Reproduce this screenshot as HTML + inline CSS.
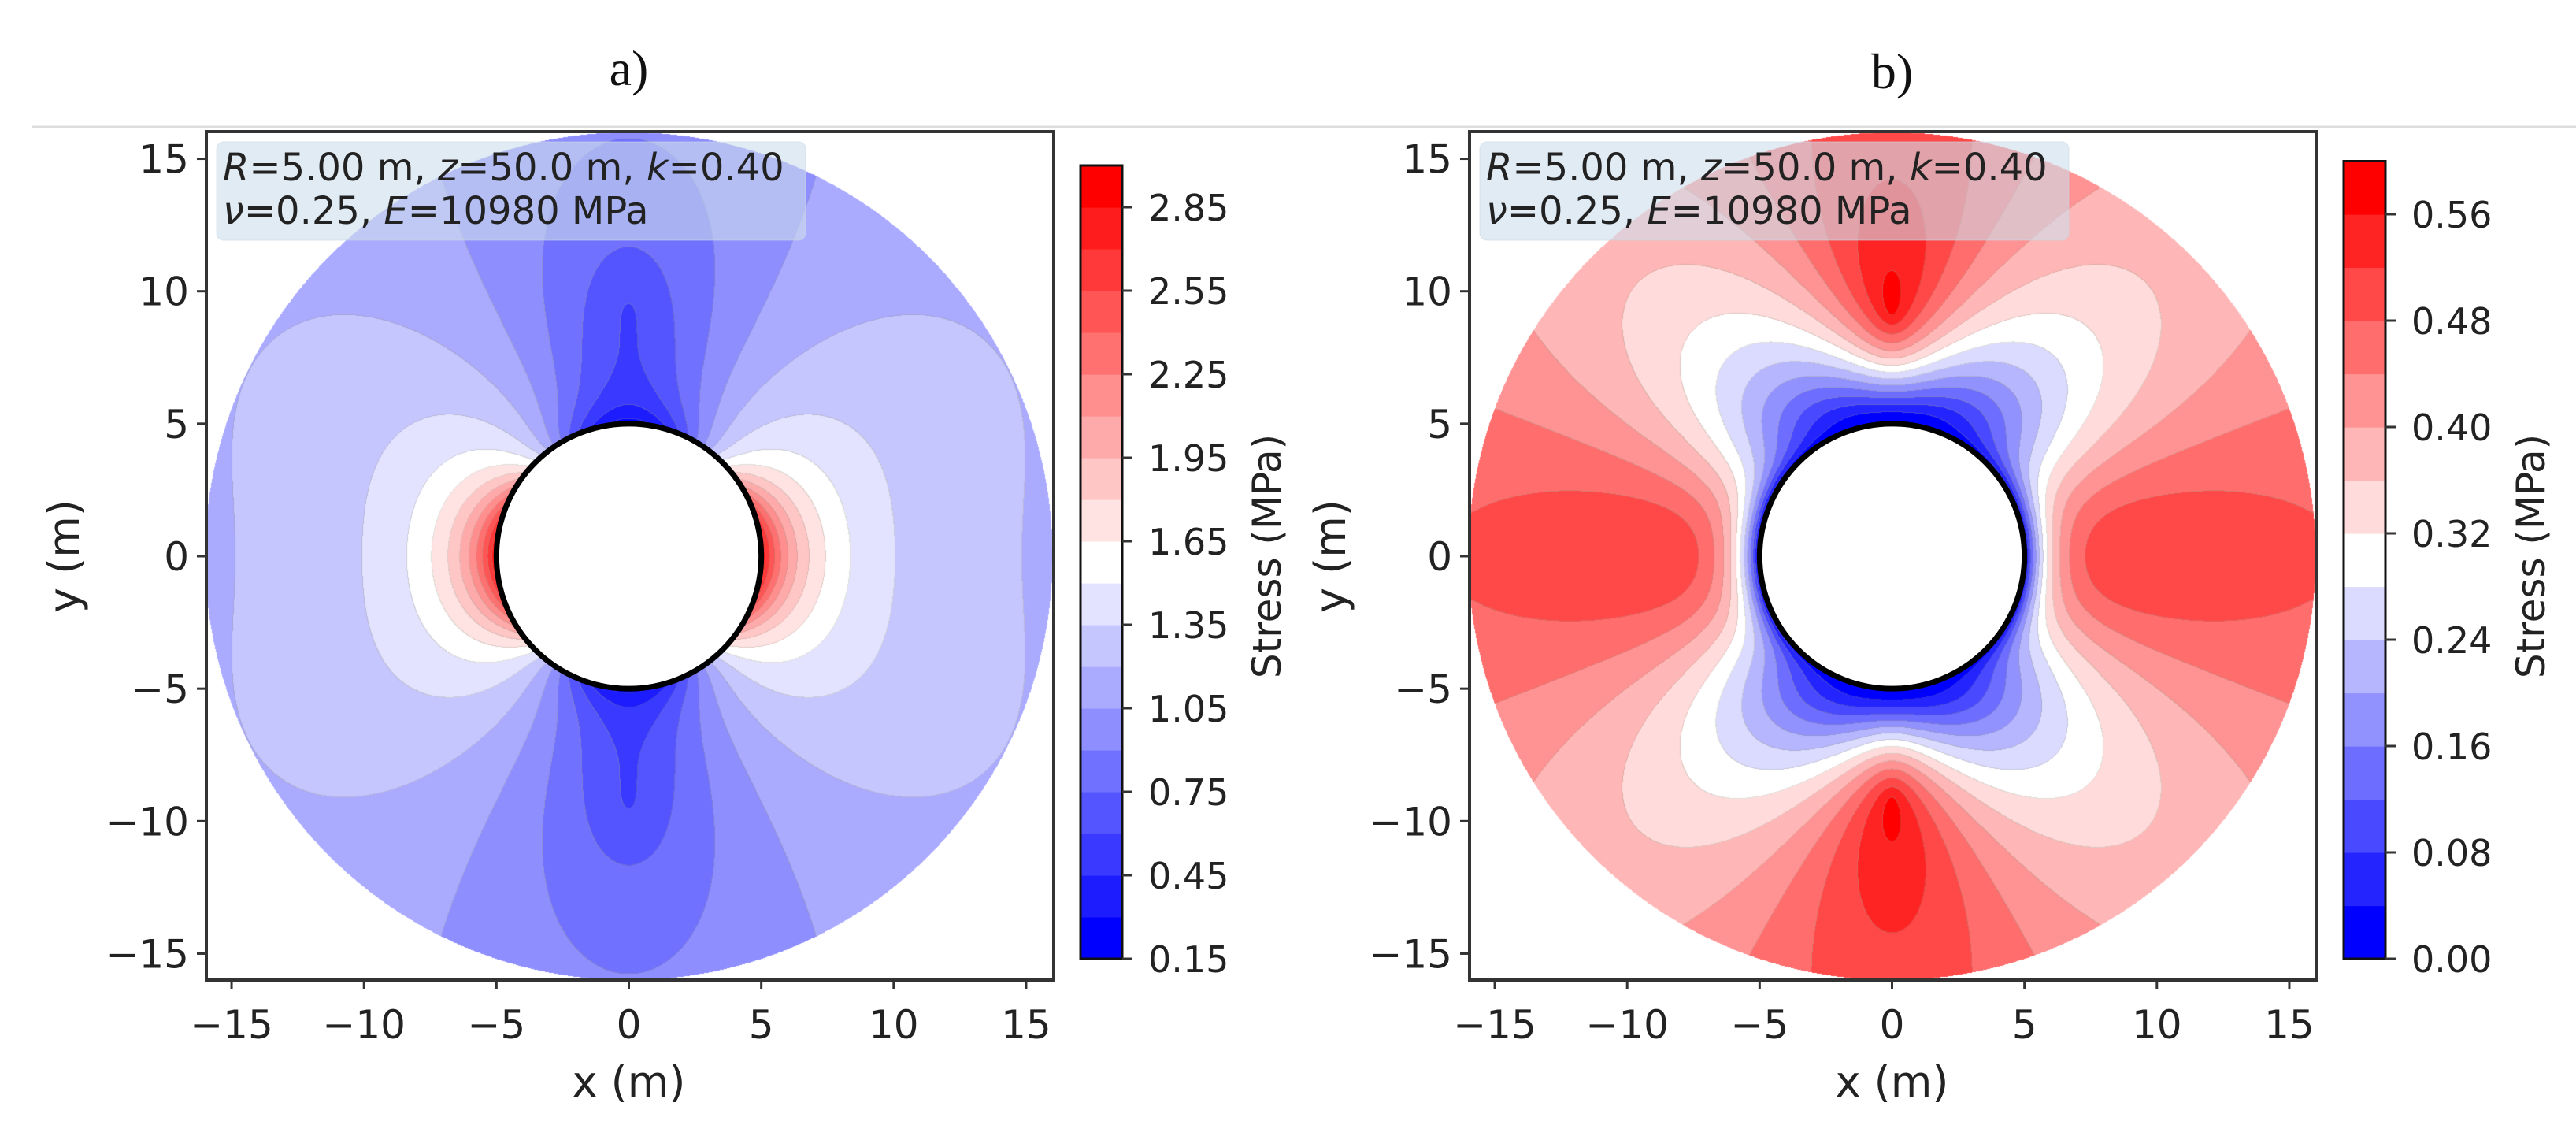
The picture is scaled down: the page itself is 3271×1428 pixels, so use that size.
<!DOCTYPE html>
<html><head><meta charset="utf-8"><style>
html,body{margin:0;padding:0;background:#fff;}
#wrap{position:relative;width:3271px;height:1428px;overflow:hidden;font-family:"DejaVu Sans","Liberation Sans",sans-serif;}
canvas{position:absolute;}
svg{position:absolute;left:0;top:0;}
</style></head><body>
<div id="wrap">
<canvas id="fa"></canvas>
<canvas id="fb"></canvas>
<svg id="svg" width="3271" height="1428" xmlns="http://www.w3.org/2000/svg"></svg>
</div>
<script>
// ---- data ----
const farField = [1.10, 0.40];           // vertical stress p (MPa), horizontal ratio k
const holeRadius = [5.0];
const domainRadius = [16.0];
const levelsA = [0.15,0.30,0.45,0.60,0.75,0.90,1.05,1.20,1.35,1.50,1.65,1.80,1.95,2.10,2.25,2.40,2.55,2.70,2.85,3.00];
const levelsB = [0.00,0.04,0.08,0.12,0.16,0.20,0.24,0.28,0.32,0.36,0.40,0.44,0.48,0.52,0.56,0.60];
const cbTicksA = ["0.15","0.45","0.75","1.05","1.35","1.65","1.95","2.25","2.55","2.85"];
const cbTicksB = ["0.00","0.08","0.16","0.24","0.32","0.40","0.48","0.56"];
const axisTicks = [-15,-10,-5,0,5,10,15];

const NS="http://www.w3.org/2000/svg";
const svg=document.getElementById('svg');
function el(tag,attrs,parent){const e=document.createElementNS(NS,tag);for(const k in attrs)e.setAttribute(k,attrs[k]);(parent||svg).appendChild(e);return e;}

function bwr(t){t=Math.max(0,Math.min(1,t));
  if(t<0.5){const v=Math.round(510*t);return [v,v,255];}
  const v=Math.round(510*(1-t));return [255,v,v];}

function kirsch(x,y){
  const p=farField[0],k=farField[1],R=holeRadius[0];
  const Sx=k*p,Sy=p;const r2=x*x+y*y;const rho=R*R/r2,rho2=rho*rho;
  const th=Math.atan2(y,x);const c=Math.cos(2*th),s=Math.sin(2*th);
  const A=(Sx+Sy)/2,B=(Sx-Sy)/2;
  const sr=A*(1-rho)+B*(1-4*rho+3*rho2)*c;
  const st=A*(1+rho)-B*(1+3*rho2)*c;
  const tr=-B*(1+2*rho-3*rho2)*s;
  const m=(sr+st)/2,d=Math.sqrt(((sr-st)/2)**2+tr*tr);
  return [m+d,m-d];
}

const FX0=262,FY0=167,FW=1076,FH=1077,SC=33.63;
const panels=[
 {cv:'fa',off:0,levels:levelsA,ticks:cbTicksA,which:0,name:'a',ylx:82,clx:1626},
 {cv:'fb',off:1604,levels:levelsB,ticks:cbTicksB,which:1,name:'b',ylx:1690,clx:3231}];

panels.forEach(P=>{
  const cx0=798.5+P.off, cy0=706;
  const xS=v=>cx0+v*SC, yS=v=>cy0-v*SC;
  const cv=document.getElementById(P.cv);
  cv.width=FW;cv.height=FH;cv.style.left=(FX0+P.off)+'px';cv.style.top=FY0+'px';
  const ctx=cv.getContext('2d');const img=ctx.createImageData(FW,FH);
  const L=P.levels,n=L.length-1,step=L[1]-L[0];
  const band=new Int16Array(FW*FH).fill(-1);
  for(let j=0;j<FH;j++){for(let i=0;i<FW;i++){
    const x=(FX0+P.off+i+0.5-cx0)/SC,y=(cy0-(FY0+j+0.5))/SC;const r=Math.hypot(x,y);
    if(r>domainRadius[0]||r<holeRadius[0])continue;
    const v=kirsch(x,y)[P.which];
    let b=Math.floor((v-L[0])/step);b=Math.max(0,Math.min(n-1,b));band[j*FW+i]=b;}}
  for(let j=0;j<FH;j++){for(let i=0;i<FW;i++){
    const idx=j*FW+i,b=band[idx],o=idx*4;
    if(b<0){img.data[o]=255;img.data[o+1]=255;img.data[o+2]=255;img.data[o+3]=0;continue;}
    let c=bwr(b/(n-1));
    const br=i+1<FW?band[idx+1]:b, bd=j+1<FH?band[idx+FW]:b;
    if((br>=0&&br!==b)||(bd>=0&&bd!==b)){c=[c[0]*0.7+150*0.3,c[1]*0.7+150*0.3,c[2]*0.7+130*0.3];}
    img.data[o]=c[0];img.data[o+1]=c[1];img.data[o+2]=c[2];img.data[o+3]=255;}}
  ctx.putImageData(img,0,0);

  const g=el('g',{});
  
  
  const hole=el('circle',{cx:xS(0),cy:yS(0),r:holeRadius[0]*SC,fill:'#fff',stroke:'#000','stroke-width':7},g);
  
  
  const fr=el('rect',{x:FX0+P.off,y:FY0,width:FW,height:FH,fill:'none',stroke:'#333','stroke-width':4},g);
  
  
  axisTicks.forEach(t=>{
    el('line',{x1:xS(t),x2:xS(t),y1:FY0+FH,y2:FY0+FH+12,stroke:'#333','stroke-width':3},g);
    const tx=el('text',{x:xS(t),y:1318,'text-anchor':'middle','font-size':50,fill:'#222'},g);
    tx.textContent=(t<0?'\u2212':'')+Math.abs(t);
    
    
    el('line',{x1:FX0+P.off-12,x2:FX0+P.off,y1:yS(t),y2:yS(t),stroke:'#333','stroke-width':3},g);
    const ty=el('text',{x:FX0+P.off-22,y:yS(t)+18,'text-anchor':'end','font-size':50,fill:'#222'},g);
    ty.textContent=(t<0?'\u2212':'')+Math.abs(t);
    
    
  });
  const xl=el('text',{x:xS(0),y:1392,'text-anchor':'middle','font-size':54,fill:'#222'},g);
  xl.textContent='x (m)';
  
  
  const ylx=P.ylx+18;
  const yl=el('text',{x:ylx,y:706,'text-anchor':'middle','font-size':54,fill:'#222',transform:`rotate(-90 ${ylx} 706)`},g);
  yl.textContent='y (m)';
  
  
  const bx=275+P.off;
  const box=el('rect',{x:bx,y:180,width:748,height:125,rx:9,fill:'rgb(205,222,235)','fill-opacity':0.6,stroke:'rgb(200,215,228)','stroke-opacity':0.6},g);
  
  
  const t1=el('text',{x:bx+8,y:229,'font-size':48,fill:'#222'},g);
  t1.innerHTML='<tspan font-style="italic">R</tspan>=5.00 m, <tspan font-style="italic">z</tspan>=50.0 m, <tspan font-style="italic">k</tspan>=0.40';
  
  
  const t2=el('text',{x:bx+8,y:284,'font-size':48,fill:'#222'},g);
  t2.innerHTML='<tspan font-style="italic">ν</tspan>=0.25, <tspan font-style="italic">E</tspan>=10980 MPa';
  
  
  const cbx=1372+P.off,cbw=53,cbBot=1217;
  const tickVals=P.ticks.map(Number);
  const cbS=(1217-( P.which===0?1111:1082))/(tickVals[1]-tickVals[0]);
  const cbY=v=>cbBot-(v-L[0])*cbS;
  for(let i=0;i<n;i++){
    const c=bwr(i/(n-1));
    const r=el('rect',{x:cbx,y:cbY(L[i+1]),width:cbw,height:cbY(L[i])-cbY(L[i+1])+0.6,fill:`rgb(${c[0]},${c[1]},${c[2]})`},g);
    
    
  }
  const cf=el('rect',{x:cbx,y:cbY(L[n]),width:cbw,height:cbY(L[0])-cbY(L[n]),fill:'none',stroke:'#111','stroke-width':3},g);
  
  
  P.ticks.forEach(s=>{const v=Number(s);
    el('line',{x1:cbx+cbw,x2:cbx+cbw+13,y1:cbY(v),y2:cbY(v),stroke:'#333','stroke-width':3},g);
    const tl=el('text',{x:cbx+86,y:cbY(v)+17,'font-size':46,fill:'#222'},g);
    tl.textContent=s;
    
    
  });
  const clx=P.clx;
  const cl=el('text',{x:clx,y:706,'text-anchor':'middle','font-size':50,fill:'#222',transform:`rotate(-90 ${clx} 706)`},g);
  cl.textContent='Stress (MPa)';
  
  
  const pt=el('text',{x:xS(0),y:P.off?112:108,'text-anchor':'middle','font-size':64,'font-family':'"Liberation Serif",serif',fill:'#111'},g);
  pt.textContent=P.name+')';
  
  
});
const sep=el('line',{x1:40,x2:3271,y1:161,y2:161,stroke:'#ddd','stroke-width':3});


</script>
</body></html>
